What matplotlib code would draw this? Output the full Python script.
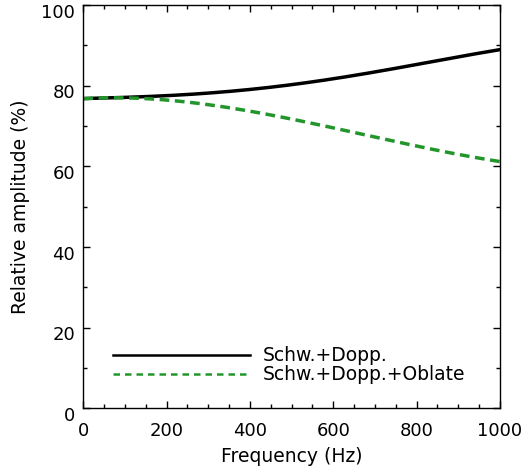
import matplotlib
matplotlib.use("Agg")
import matplotlib.pyplot as plt
import matplotlib.transforms as mtrans
import numpy as np

# frequency grid (Hz) and relative amplitudes (%)
freq = [0, 100, 200, 300, 400, 500, 600, 700, 800, 900, 1000]
schw_dopp = [76.8, 77.1, 77.5, 78.1, 79.1, 80.4, 81.6, 83.3, 85.3, 87.2, 88.9]
schw_dopp_obl = [76.8, 76.9, 76.5, 75.3, 73.7, 71.6, 69.5, 67.4, 65.0, 62.9, 61.2]

labels = ["Schw.+Dopp.", "Schw.+Dopp.+Oblate"]

fs = 13
plt.rcParams['font.family'] = ['DejaVu Sans']

fig = plt.figure(figsize=(5.22, 4.71), dpi=100)
ax = fig.add_axes([83.3/522, 1 - 408.3/471, (500 - 83.3)/522, (408.3 - 5)/471])

# smooth the read-off points for drawing
xs = np.linspace(0, 1000, 201)
c1 = np.polyfit(freq, schw_dopp, 4)
c2 = np.polyfit(freq, schw_dopp_obl, 4)

ax.plot(xs, np.polyval(c1, xs), color='black', lw=2.5, label=labels[0])
ax.plot(xs, np.polyval(c2, xs), color='#22962a', lw=2.5, ls=(0, (2.8, 1.6)), label=labels[1])

ax.set_xlim(0, 1000)
ax.set_ylim(0, 100)
ax.set_xticks([0, 200, 400, 600, 800, 1000])
ax.set_xticks(np.arange(0, 1001, 50), minor=True)
ax.set_yticks([0, 20, 40, 60, 80, 100])
ax.set_yticks(np.arange(0, 101, 10), minor=True)
ax.tick_params(which='both', direction='in', top=True, right=True, width=1, labelsize=fs)
ax.tick_params(which='major', length=5)
ax.tick_params(which='minor', length=3)
ax.tick_params(axis='x', pad=10)
ax.tick_params(axis='y', pad=6)
for s in ax.spines.values():
    s.set_linewidth(1)

# y tick labels sit a little below their ticks in the original
off = mtrans.ScaledTranslation(0, -4/72, fig.dpi_scale_trans)
for lab in ax.get_yticklabels():
    lab.set_transform(lab.get_transform() + off)

ax.set_xlabel('Frequency (Hz)', fontsize=13.5, labelpad=5)
ax.set_ylabel('Relative amplitude (%)', fontsize=13.5, labelpad=8)

leg = ax.legend(loc='lower left', bbox_to_anchor=(0.072, 0.06), frameon=False,
                fontsize=13.5, handlelength=7.3, handletextpad=0.65, labelspacing=0.0,
                borderpad=0, borderaxespad=0)
for h in leg.get_lines():
    h.set_linewidth(1.8)
leg.get_lines()[1].set_linestyle((0, (2.6, 2.0)))

fig.savefig('out.png', dpi=100)
